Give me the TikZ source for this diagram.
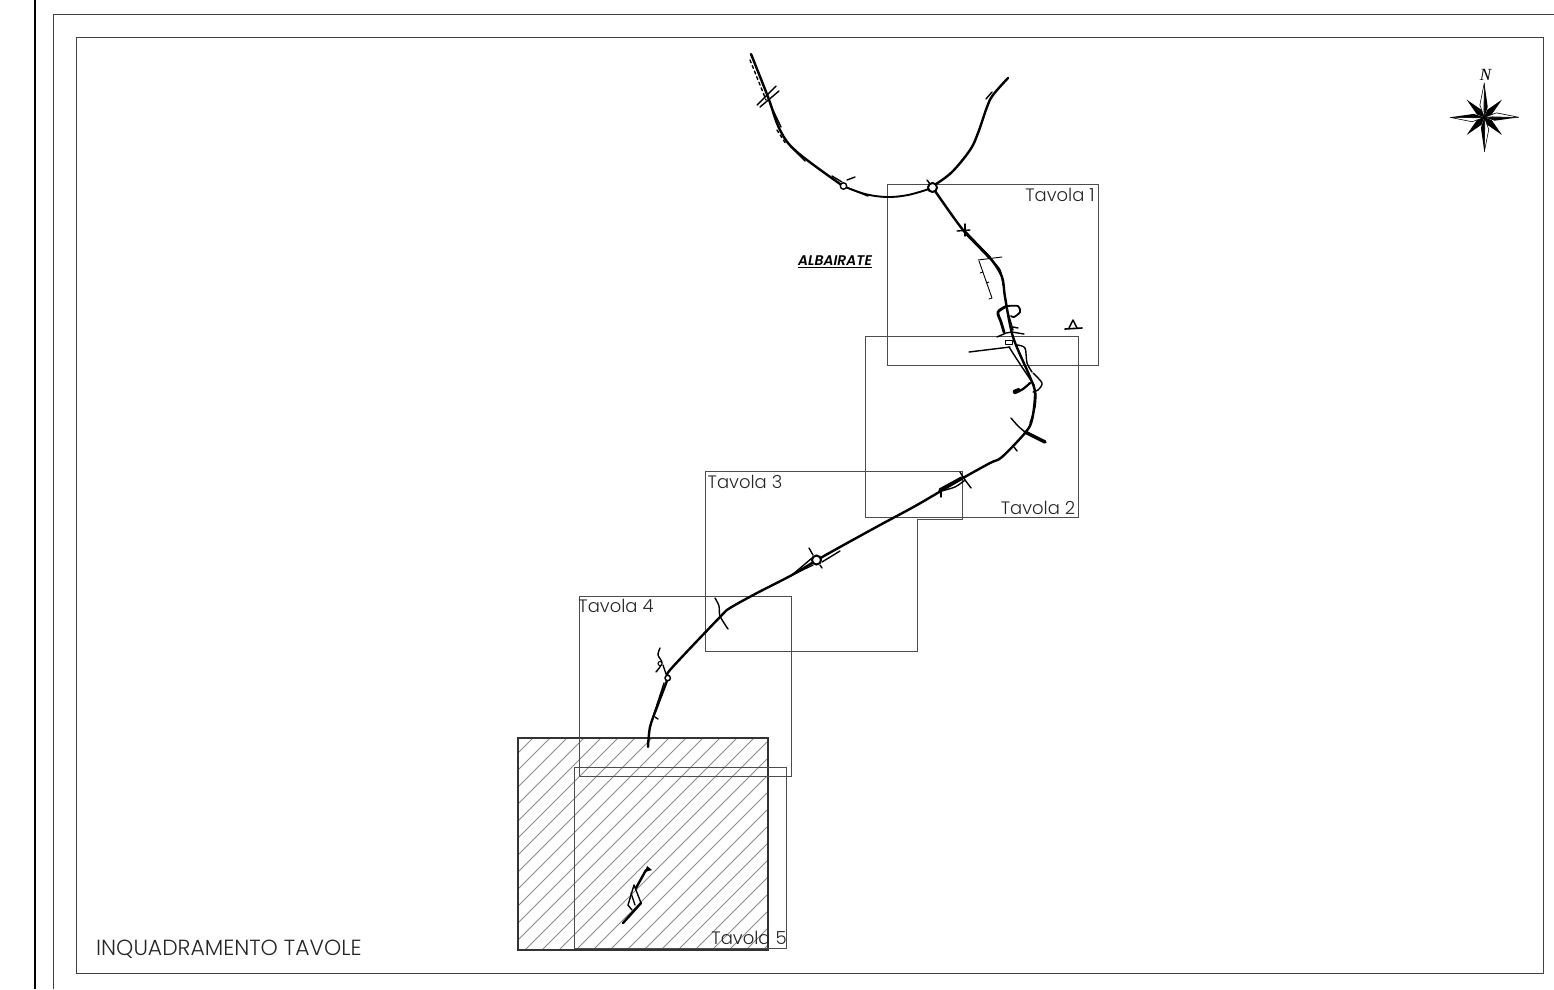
\documentclass[tikz,border=0pt]{standalone}
\usepackage{fontspec}
\setmainfont{Poppins Light}[BoldFont={Poppins SemiBold},BoldItalicFont={Poppins SemiBold Italic}]
\newfontfamily\northfont{Liberation Serif}
\tikzset{
  frameline/.style={draw=black!75, line width=1pt},
  tavola/.style={draw=black!70, line width=1pt},
  road/.style={line width=2.4pt, line cap=round, line join=round},
  sideroad/.style={line width=1.4pt, line cap=round, line join=round},
  hatchline/.style={draw=black!45, line width=0.9pt},
  label/.style={inner sep=0pt, text=black!85, font=\fontsize{18}{20}\selectfont}
}
\begin{document}
\begin{tikzpicture}[x=1pt, y=-1pt]
  \useasboundingbox (0,0) rectangle (1554,989);
  \draw [line width=2pt] (35,0) -- (35,989);
  \draw [frameline] (1554,14.5) -- (53.5,14.5) -- (53.5,989);
  \draw [frameline] (76.5,37.5) rectangle (1543.5,973.5);
  % hatched sheet
  \begin{scope}
    \clip (518,738) rectangle (768,950);
    \foreach \s in {1254,1271,...,1718} {
      \draw [hatchline] (\s-738,738) -- (\s-950,950);
    }
  \end{scope}
  \draw [line width=2pt, draw=black!80] (518,738) rectangle (768,950);
  % sheets
  \draw [tavola] (887.5,184.5) rectangle (1098.5,365.5);
  \draw [tavola] (865.5,336.5) rectangle (1078.5,517.5);
  \draw [tavola] (705.5,471.5) -- (962.5,471.5) -- (962.5,519.5) -- (917.5,519.5) -- (917.5,651.5) -- (705.5,651.5) -- cycle;
  \draw [tavola] (579.5,596.5) rectangle (791.5,776.5);
  \draw [tavola] (574.5,767.5) rectangle (786.5,948.5);
  % main road
  \draw [road] plot [smooth, tension=0.6] coordinates {(751,54) (768,97) (780,130) (797,152) (843,186)};
  \draw [road, line width=1.9pt] plot [smooth, tension=0.6] coordinates {(843,186) (865,194) (887,197) (908,195) (929,189)};
  \draw [road] plot [smooth, tension=0.6] coordinates {(936,184) (952,172) (970,150) (978,133) (987,107) (993,95) (1008,78)};
  \draw [road] plot [smooth, tension=0.5] coordinates {(933,188) (963,230) (990,258) (1002,277) (1005,297) (1013,337) (1030,377) (1035,393) (1032,420) (1025,433) (1002,457) (990,463) (963,478) (917,505) (880,525) (840,547) (817,560) (792,575) (757,593) (730,608) (720,617) (670,670) (668,678) (657,707) (650,727) (648,747)};
  % side roads, north part
  \draw [sideroad, dashed] (750,60) -- (766,100);
  \draw [sideroad] (772,108) -- (781,127);
  \draw [sideroad, dashed] (777,130) -- (786,144);
  \draw [sideroad] (790,146) -- (805,161);
  \draw [sideroad] (757,105) -- (776,86);
  \draw [sideroad] (760,107) -- (779,91);
  \draw [sideroad] (832,176) -- (842,182);
  \draw [sideroad] (848,188) -- (868,196);
  \draw [sideroad] (847,180) -- (855,177);
  \draw [sideroad] (957,231) -- (970,230);
  \draw [sideroad] (965,224) -- (965,236);
  \draw [sideroad] (927,180) -- (930,184);
  \draw [sideroad] (936,193) -- (938,196);
  \draw [sideroad] (986,99) -- (992,92);
  \draw [road, line width=3pt] (965,232) -- (990,258);
  \draw [draw=black, fill=white, line width=1.4pt] (843.5,186) circle (3.2);
  \draw [draw=black, fill=white, line width=2pt] (932.5,187.5) circle (4.5);
  % side roads, sheet 1 and 2
  \draw [sideroad, line width=0.9pt] (978,260) -- (1002,257);
  \draw [sideroad, line width=0.9pt] (979,261) -- (992,298) -- (989,299);
  \draw [sideroad, line width=0.9pt] (980,273) -- (983,272);
  \draw [sideroad, line width=0.9pt] (986,283) -- (989,282);
  \draw [sideroad] plot [smooth] coordinates {(990,258) (1000,270) (1003,285)};
  \draw [road, line width=2.8pt] plot [smooth] coordinates {(1007,306) (998,312) (1001,322) (1004,332)};
  \draw [road, line width=1.8pt] plot [smooth] coordinates {(1008,306) (1018,306) (1020,312) (1014,317) (1011,316)};
  \draw [sideroad] (997,337) -- (1006,333) -- (1012,332) -- (1024,334);
  \draw [sideroad] (1013,327) -- (1018,328);
  \draw [sideroad] (1008,313) -- (1013,330);
  \draw [sideroad] (1002,327) -- (1004,333);
  \draw [sideroad] (969,352) -- (1010,347);
  \draw [sideroad, line width=0.8pt] (1005,340) rectangle (1012,344);
  \draw [sideroad] plot [smooth] coordinates {(1009,347) (1018,361) (1030,379) (1034,385)};
  \draw [sideroad] plot [smooth] coordinates {(1017,345) (1025,348) (1027,363) (1032,372)};
  \draw [sideroad] plot [smooth] coordinates {(1033,373) (1042,383) (1038,390) (1033,392)};
  \draw [road, line width=2.2pt] plot [smooth] coordinates {(1030,383) (1023,389) (1015,393) (1014,391) (1019,389)};
  \draw [sideroad] plot [smooth] coordinates {(1036,393) (1035,407) (1030,423)};
  \draw [sideroad] plot [smooth] coordinates {(1011,418) (1018,426) (1025,432)};
  \draw [road, line width=3.4pt] (1025,432) -- (1045,442);
  \draw [sideroad] (1014,447) -- (1017,451);
  % stand-alone junction
  \draw [road, line width=1.6pt] (1065,329) -- (1082,328);
  \draw [sideroad] (1069,328) -- (1073,320) -- (1077,328);
  % sheet 3 crossing
  \draw [road, line width=3.6pt] (940,490) -- (962,478);
  \draw [sideroad] (941,490) -- (941,497);
  \draw [sideroad] (960,472) -- (965,480) -- (971,488);
  \draw [sideroad] plot [smooth] coordinates {(941,491) (955,487) (965,480)};
  % roundabout
  \draw [sideroad] (792,575) -- (812,558);
  \draw [sideroad] (792,575) -- (813,565);
  \draw [sideroad] (822,557) -- (858,537);
  \draw [sideroad] (822,562) -- (840,551);
  \draw [sideroad] (809,548) -- (813,555);
  \draw [sideroad] (820,565) -- (822,568);
  \draw [draw=black, fill=white, line width=2pt] (816.5,560) circle (4.5);
  % crossings, sheet 4
  \draw [sideroad] plot [smooth] coordinates {(715,598) (719,606) (720,616) (728,629)};
  \draw [sideroad] plot [smooth] coordinates {(660,648) (658,655) (662,663) (656,672)};
  \draw [sideroad] (663,665) -- (666,674);
  \draw [sideroad] (664,683) -- (653,717);
  \draw [sideroad] (655,717) -- (658,719);
  \draw [draw=black, fill=white, line width=1.5pt] (667.7,678) circle (2.7);
  \draw [draw=black, fill=white, line width=1pt] (660,663.5) circle (2);
  % works inside sheet 5
  \draw [road] (623,923) -- (641,903);
  \draw [sideroad] (641,903) -- (634,885) -- (628,905) -- (632,910);
  \draw [sideroad] (631,893) -- (635,905);
  \draw [road] (636,888) -- (646,870);
  \fill (647,866) -- (645,872) -- (652,870) -- cycle;
  % north arrow
  \begin{scope}[shift={(1484.3,117.3)}]
    \foreach \a in {0,90,180,270} {
      \draw [fill=white, line width=0.6pt] (0,0) -- (\a:34.5) -- (\a-20:13) -- cycle;
      \fill (0,0) -- (\a:34.5) -- (\a+18:11) -- cycle;
      \fill (0,0) -- (\a:34.5) -- (\a-6:8) -- cycle;
    }
    \foreach \a in {45,135,225,315} {
      \fill (0,0) -- (\a+24:8) -- (\a:25) -- (\a-24:8) -- cycle;
    }
  \end{scope}
  \node [inner sep=0pt, font=\northfont\itshape\fontsize{17}{19}\selectfont] (north) at (1485.5,74.5) {N};
  % labels
  \node [label] (tavola1) at (1060,195) {Tavola 1};
  \node [label] (tavola2) at (1038,508) {Tavola 2};
  \node [label] (tavola3) at (745,482) {Tavola 3};
  \node [label] (tavola4) at (616,606) {Tavola 4};
  \node [label] (tavola5) at (749,938) {Tavola 5};
  \node [inner sep=0pt, font=\bfseries\itshape\fontsize{14}{16}\selectfont] (albairate) at (835,262) {\underline{ALBAIRATE}};
  \node [label, anchor=west, font=\fontsize{21.9}{24}\selectfont] (titolo) at (96,949) {INQUADRAMENTO TAVOLE};
\end{tikzpicture}
\end{document}
